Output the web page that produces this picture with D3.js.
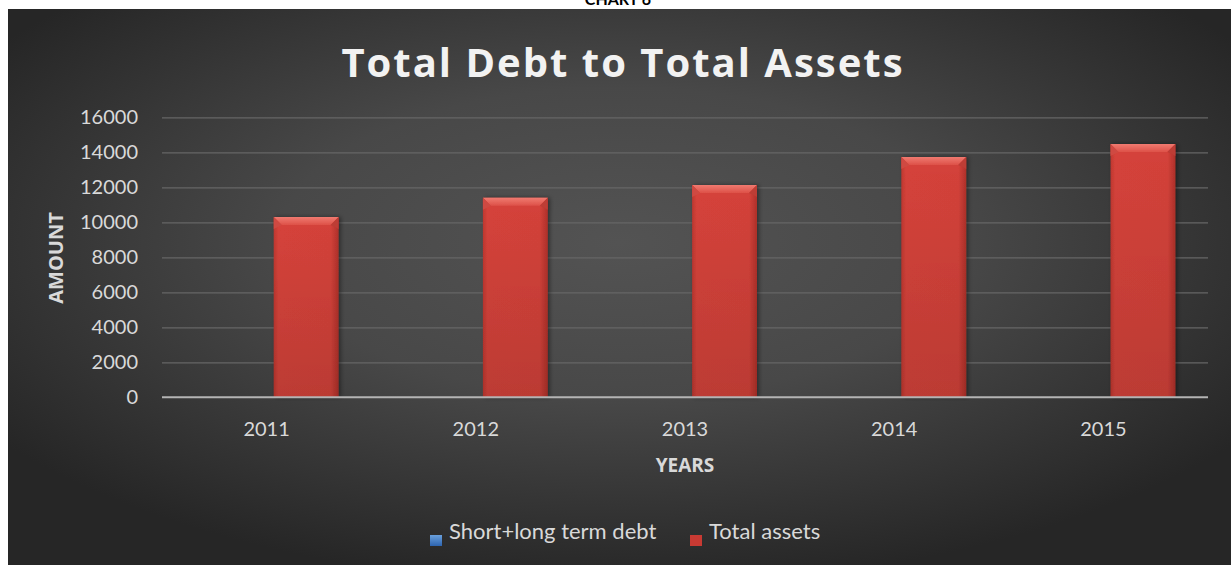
<!DOCTYPE html>
<html>
<head>
<meta charset="utf-8">
<script src="https://cdn.jsdelivr.net/npm/d3@7/dist/d3.min.js"></script>
<style>
  html, body { margin: 0; padding: 0; background: #ffffff; }
  svg { display: block; }
</style>
</head>
<body>
<svg id="chart" width="1231" height="565"></svg>
<script>
// Chart data
const years = ["2011", "2012", "2013", "2014", "2015"];
const seriesNames = ["Short+long term debt", "Total assets"];
const debtValues = [0, 0, 0, 0, 0];
const assetValues = [10300, 11400, 12130, 13730, 14470];
const yTicks = [0, 2000, 4000, 6000, 8000, 10000, 12000, 14000, 16000];

const W = 1231, H = 565;
const svg = d3.select("#chart");
const defs = svg.append("defs");

// Dark panel background with a soft radial glow
const bg = defs.append("radialGradient").attr("id", "bgGrad")
  .attr("cx", "50%").attr("cy", "42%").attr("r", "62%")
  .attr("fx", "50%").attr("fy", "42%");
bg.append("stop").attr("offset", "0%").attr("stop-color", "#535353");
bg.append("stop").attr("offset", "45%").attr("stop-color", "#484848");
bg.append("stop").attr("offset", "100%").attr("stop-color", "#262626");

// Red bar shading (horizontal) and blue legend swatch
const redGrad = defs.append("linearGradient").attr("id", "redGrad")
  .attr("x1", "0").attr("x2", "1").attr("y1", "0").attr("y2", "0");
redGrad.append("stop").attr("offset", "0%").attr("stop-color", "#c0372f");
redGrad.append("stop").attr("offset", "7%").attr("stop-color", "#d6433b");
redGrad.append("stop").attr("offset", "88%").attr("stop-color", "#d4423a");
redGrad.append("stop").attr("offset", "100%").attr("stop-color", "#b0302a");

const redV = defs.append("linearGradient").attr("id", "redV")
  .attr("x1", "0").attr("x2", "0").attr("y1", "0").attr("y2", "1");
redV.append("stop").attr("offset", "0%").attr("stop-color", "#000").attr("stop-opacity", 0);
redV.append("stop").attr("offset", "100%").attr("stop-color", "#000").attr("stop-opacity", 0.12);

const bevelGrad = defs.append("linearGradient").attr("id", "bevelGrad")
  .attr("x1", "0").attr("x2", "0").attr("y1", "0").attr("y2", "1");
bevelGrad.append("stop").attr("offset", "0%").attr("stop-color", "#f07a70");
bevelGrad.append("stop").attr("offset", "100%").attr("stop-color", "#dd5148");

const blueGrad = defs.append("linearGradient").attr("id", "blueGrad")
  .attr("x1", "0").attr("x2", "0").attr("y1", "0").attr("y2", "1");
blueGrad.append("stop").attr("offset", "0%").attr("stop-color", "#6aa0dc");
blueGrad.append("stop").attr("offset", "100%").attr("stop-color", "#2d64b0");

const shadow = defs.append("filter").attr("id", "barShadow")
  .attr("x", "-20%").attr("y", "-5%").attr("width", "140%").attr("height", "110%");
shadow.append("feDropShadow").attr("dx", 2).attr("dy", 0).attr("stdDeviation", 2)
  .attr("flood-color", "#000").attr("flood-opacity", 0.4);

// Caption above the panel
svg.append("text")
  .attr("x", 618).attr("y", 5)
  .attr("text-anchor", "middle")
  .attr("font-family", "Lato, 'Open Sans', sans-serif")
  .attr("font-weight", "bold").attr("font-size", 16)
  .attr("fill", "#000")
  .text("CHART 6");

// Panel
svg.append("rect")
  .attr("x", 8).attr("y", 9).attr("width", W - 8).attr("height", H - 9)
  .attr("fill", "url(#bgGrad)");

// Title
svg.append("text")
  .attr("x", 623).attr("y", 77)
  .attr("text-anchor", "middle")
  .attr("font-family", "'Open Sans', Lato, sans-serif")
  .attr("font-weight", "bold").attr("font-size", 40)
  .attr("letter-spacing", 2)
  .attr("fill", "#f2f2f2")
  .text("Total Debt to Total Assets");

// Scales
const plotLeft = 162, plotRight = 1208;
const y = d3.scaleLinear().domain([0, 16000]).range([397.3, 117.3]);
const x0 = d3.scaleBand().domain(years).range([plotLeft, plotRight]).padding(0);
const x1 = d3.scaleBand().domain(seriesNames).range([-72, 72]).paddingInner(0.18).paddingOuter(0);

// Gridlines
const grid = svg.append("g")
  .attr("transform", `translate(${plotLeft},0)`)
  .call(d3.axisLeft(y).tickValues(yTicks.slice(1)).tickSize(-(plotRight - plotLeft)).tickFormat(""));
grid.select(".domain").remove();
grid.selectAll("line").attr("stroke", "#666666").attr("stroke-width", 1.2);

// Y tick labels
const yAxis = svg.append("g")
  .attr("transform", `translate(${plotLeft},0)`)
  .call(d3.axisLeft(y).tickValues(yTicks).tickSize(0).tickPadding(24).tickFormat(d3.format("d")));
yAxis.select(".domain").remove();
yAxis.selectAll("text")
  .attr("font-family", "Lato, 'Open Sans', sans-serif")
  .attr("font-size", 20)
  .attr("fill", "#d9d9d9");

// Bars
const seriesData = [
  { name: seriesNames[0], values: debtValues, fill: "url(#blueGrad)" },
  { name: seriesNames[1], values: assetValues, fill: "url(#redGrad)" }
];

const groups = svg.append("g").selectAll("g.year")
  .data(years)
  .join("g")
  .attr("class", "year")
  .attr("transform", d => `translate(${x0(d) + x0.bandwidth() / 2},0)`);

groups.each(function (yr, i) {
  const g = d3.select(this);
  seriesData.forEach(s => {
    const v = s.values[i];
    const bx = x1(s.name), bw = x1.bandwidth();
    const top = y(v), bottom = y(0);
    const h = bottom - top;
    if (h <= 0) return;
    const bar = g.append("g").attr("filter", "url(#barShadow)");
    bar.append("rect")
      .attr("x", bx).attr("y", top).attr("width", bw).attr("height", h)
      .attr("fill", s.fill);
    bar.append("rect")
      .attr("x", bx).attr("y", top).attr("width", bw).attr("height", h)
      .attr("fill", "url(#redV)");
    const b = 8;
    // bevelled top edge
    bar.append("polygon")
      .attr("points", [[bx, top], [bx + bw, top], [bx + bw - b, top + b], [bx + b, top + b]].map(p => p.join(",")).join(" "))
      .attr("fill", "url(#bevelGrad)");
    bar.append("polygon")
      .attr("points", [[bx + bw, top], [bx + bw, top + b + 4], [bx + bw - b, top + b]].map(p => p.join(",")).join(" "))
      .attr("fill", "#bd3c35");
    bar.append("polygon")
      .attr("points", [[bx, top], [bx, top + b + 4], [bx + b, top + b]].map(p => p.join(",")).join(" "))
      .attr("fill", "#cf4a42");
  });
});

// X axis baseline
svg.append("line")
  .attr("x1", plotLeft).attr("x2", plotRight)
  .attr("y1", y(0)).attr("y2", y(0))
  .attr("stroke", "#b4b4b4").attr("stroke-width", 2);

// X tick labels
const xAxis = svg.append("g")
  .attr("transform", `translate(0,${y(0)})`)
  .call(d3.axisBottom(x0).tickSize(0).tickPadding(25));
xAxis.select(".domain").remove();
xAxis.selectAll("text")
  .attr("font-family", "Lato, 'Open Sans', sans-serif")
  .attr("font-size", 20)
  .attr("fill", "#d9d9d9");

// Axis titles
svg.append("text")
  .attr("x", 685).attr("y", 472)
  .attr("text-anchor", "middle")
  .attr("font-family", "'Open Sans', Lato, sans-serif")
  .attr("font-weight", "bold").attr("font-size", 19)
  .attr("fill", "#d9d9d9")
  .text("YEARS");

svg.append("text")
  .attr("transform", "translate(63,258) rotate(-90)")
  .attr("text-anchor", "middle")
  .attr("font-family", "'Open Sans', Lato, sans-serif")
  .attr("font-weight", "bold").attr("font-size", 20)
  .attr("fill", "#d9d9d9")
  .text("AMOUNT");

// Legend
const legendItems = [
  { name: seriesNames[0], fill: "url(#blueGrad)", x: 430 },
  { name: seriesNames[1], fill: "#c83a33", x: 690 }
];
const legend = svg.append("g");
legendItems.forEach(it => {
  legend.append("rect")
    .attr("x", it.x).attr("y", 535).attr("width", 12).attr("height", 11)
    .attr("fill", it.fill);
  legend.append("text")
    .attr("x", it.x + 19).attr("y", 533)
    .attr("dominant-baseline", "middle")
    .attr("font-family", "Lato, 'Open Sans', sans-serif")
    .attr("font-size", 22)
    .attr("fill", "#d9d9d9")
    .text(it.name);
});
</script>
</body>
</html>
